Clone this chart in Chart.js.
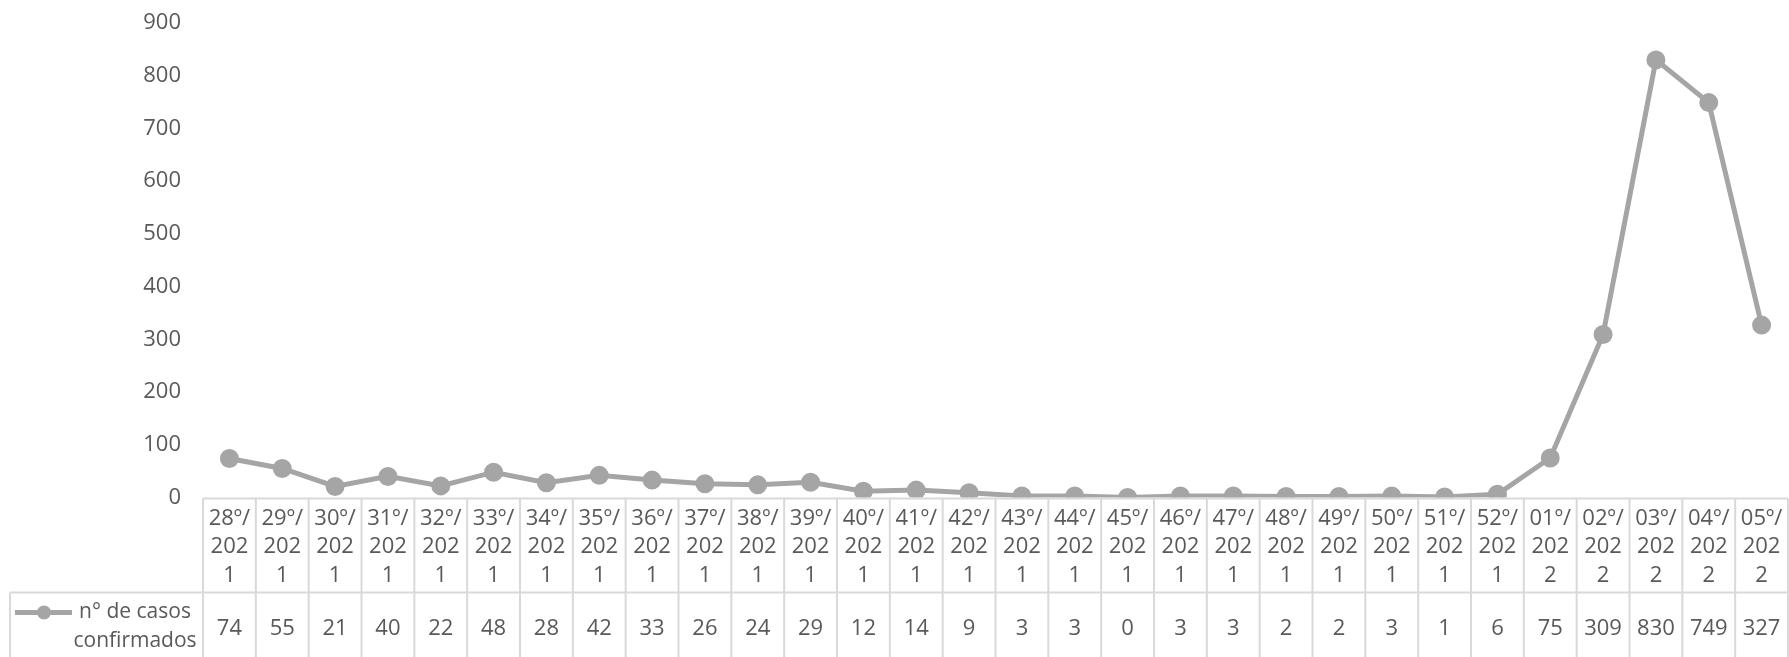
<!DOCTYPE html>
<html>
<head>
<meta charset="utf-8">
<script src="https://cdn.jsdelivr.net/npm/chart.js@4.4.0/dist/chart.umd.min.js"></script>
<style>
  html, body { margin: 0; padding: 0; background: #fff; overflow: hidden; }
  .wrap { width: 1800px; height: 657px; position: relative; }
  canvas { display: block; }
</style>
</head>
<body>
<div class="wrap"><canvas id="c" width="1800" height="657"></canvas></div>
<script>
const semanas = [
  "28º/2021","29º/2021","30º/2021","31º/2021","32º/2021","33º/2021","34º/2021","35º/2021",
  "36º/2021","37º/2021","38º/2021","39º/2021","40º/2021","41º/2021","42º/2021","43º/2021",
  "44º/2021","45º/2021","46º/2021","47º/2021","48º/2021","49º/2021","50º/2021","51º/2021",
  "52º/2021","01º/2022","02º/2022","03º/2022","04º/2022","05º/2022"
];
const casos = [74,55,21,40,22,48,28,42,33,26,24,29,12,14,9,3,3,0,3,3,2,2,3,1,6,75,309,830,749,327];
const serieNome = ["n° de casos", "confirmados"];

const textColor = "#595959";
const lineColor = "#a5a5a5";
const gridColor = "#d9d9d9";
const fontFam = "'Open Sans', sans-serif";

// tabela de dados abaixo do eixo (estilo Excel)
const dataTable = {
  id: "dataTable",
  afterDraw(chart) {
    const ctx = chart.ctx;
    const x = chart.scales.x;
    const area = chart.chartArea;
    const top = area.bottom + 1;
    const mid = top + 94;
    const bottom = chart.height;
    const colW = x.getPixelForValue(1) - x.getPixelForValue(0);
    const left = x.getPixelForValue(0) - colW / 2;
    const right = x.getPixelForValue(semanas.length - 1) + colW / 2;
    const legLeft = 10;

    ctx.save();
    ctx.strokeStyle = gridColor;
    ctx.lineWidth = 2;
    ctx.beginPath();
    ctx.moveTo(left, top); ctx.lineTo(right, top);
    ctx.moveTo(legLeft, mid); ctx.lineTo(right, mid);
    for (let i = 0; i <= semanas.length; i++) {
      const bx = left + i * colW;
      ctx.moveTo(bx, top); ctx.lineTo(bx, bottom);
    }
    ctx.moveTo(legLeft, mid); ctx.lineTo(legLeft, bottom);
    ctx.stroke();

    ctx.fillStyle = textColor;
    ctx.font = "22px " + fontFam;
    ctx.textAlign = "center";
    ctx.textBaseline = "middle";
    semanas.forEach((s, i) => {
      const cx = x.getPixelForValue(i);
      const parts = [s.slice(0, 4), s.slice(4, 7), s.slice(7)];
      parts.forEach((p, j) => ctx.fillText(p, cx, top + 20 + j * 28.5));
      ctx.fillText(String(casos[i]), cx, mid + 36);
    });

    // legenda
    ctx.strokeStyle = lineColor;
    ctx.lineWidth = 5;
    ctx.beginPath();
    ctx.moveTo(15, mid + 20); ctx.lineTo(72, mid + 20);
    ctx.stroke();
    ctx.fillStyle = lineColor;
    ctx.beginPath();
    ctx.arc(44, mid + 20, 7, 0, Math.PI * 2);
    ctx.fill();
    ctx.fillStyle = textColor;
    ctx.font = "21px " + fontFam;
    ctx.fillText(serieNome[0], 135, mid + 20);
    ctx.fillText(serieNome[1], 135, mid + 49);
    ctx.restore();
  }
};

new Chart(document.getElementById("c"), {
  type: "line",
  data: {
    labels: semanas,
    datasets: [{
      label: serieNome.join(" "),
      data: casos,
      borderColor: lineColor,
      backgroundColor: lineColor,
      borderWidth: 5,
      pointRadius: 7,
      pointHoverRadius: 7,
      tension: 0,
      fill: false
    }]
  },
  options: {
    responsive: false,
    animation: false,
    devicePixelRatio: 1,
    layout: { padding: { top: 23, right: 8, left: 0, bottom: 0 } },
    plugins: { legend: { display: false }, tooltip: { enabled: false } },
    scales: {
      x: {
        offset: true,
        grid: { display: false },
        border: { display: false },
        ticks: { display: false },
        afterFit(s) {
          s.height = 159.5;
          s.paddingLeft = 0; s.paddingRight = 0;
        }
      },
      y: {
        min: 0,
        max: 900,
        grid: { display: false, drawTicks: false },
        border: { display: false },
        ticks: {
          stepSize: 100,
          padding: 22,
          color: textColor,
          font: { family: fontFam, size: 22 }
        },
        afterFit(s) {
          s.width = 203;
          s.paddingTop = 0; s.paddingBottom = 0;
        }
      }
    }
  },
  plugins: [dataTable]
});
</script>
</body>
</html>
